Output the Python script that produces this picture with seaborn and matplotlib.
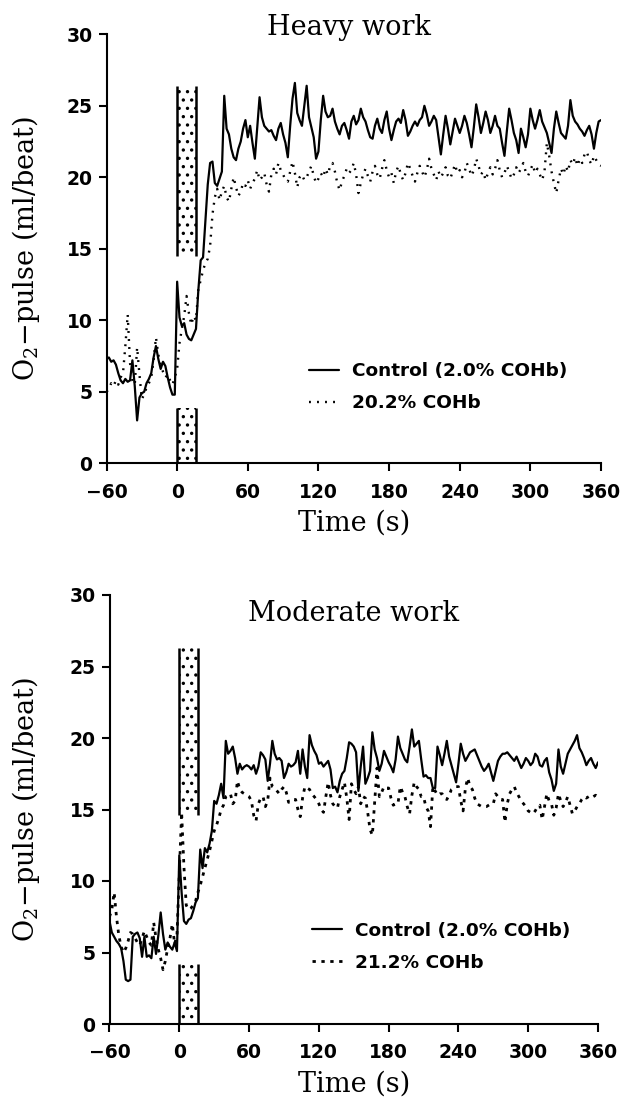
import numpy as np
import pandas as pd
import matplotlib
matplotlib.use("Agg")
import matplotlib.pyplot as plt
from matplotlib.lines import Line2D
import seaborn as sns

# ---------------- data ----------------
time_s = np.arange(-60, 361, 2)

heavy_control = [
    7.3, 7.4, 7.1, 7.2, 6.9, 6.3, 5.8, 5.6, 5.9, 5.7,
    5.8, 7.2, 5.4, 3.0, 4.6, 4.9, 5.0, 5.6, 5.9, 6.3,
    7.4, 8.2, 7.3, 6.6, 7.1, 6.8, 6.0, 5.3, 4.8, 4.8,
    12.7, 10.2, 9.6, 9.8, 9.0, 8.7, 8.6, 9.0, 9.4, 12.1,
    14.2, 14.4, 17.0, 19.5, 21.0, 21.1, 19.6, 19.4, 19.9, 20.4,
    25.7, 23.4, 23.0, 22.0, 21.4, 21.2, 22.0, 22.5, 23.4, 24.0,
    22.8, 23.6, 22.4, 21.3, 23.5, 25.6, 24.2, 23.6, 23.4, 23.2,
    23.3, 22.9, 22.6, 23.4, 23.8, 23.0, 22.4, 21.4, 23.6, 25.5,
    26.6, 24.5, 24.0, 23.6, 25.0, 26.4, 24.2, 23.5, 22.8, 21.3,
    21.8, 24.0, 25.7, 24.6, 24.2, 24.3, 24.8, 23.9, 23.4, 23.0,
    23.6, 23.8, 23.3, 22.7, 23.9, 24.3, 23.7, 24.0, 24.8, 24.2,
    23.9, 23.3, 22.8, 22.7, 23.6, 24.1, 23.4, 23.1, 24.0, 24.6,
    23.4, 22.6, 23.3, 23.9, 24.1, 23.8, 24.7, 24.0, 22.9, 23.2,
    23.6, 23.9, 23.6, 24.0, 24.2, 25.0, 24.4, 23.6, 23.9, 24.3,
    24.0, 22.8, 21.6, 23.0, 24.3, 23.4, 22.3, 23.2, 24.1, 23.6,
    23.1, 23.6, 24.3, 23.8, 23.0, 22.1, 23.5, 25.1, 24.2, 23.1,
    23.8, 24.6, 24.0, 23.1, 23.6, 24.3, 23.6, 23.4, 22.4, 21.5,
    23.2, 24.8, 24.0, 23.1, 22.6, 21.7, 23.4, 22.8, 22.1, 23.0,
    24.8, 24.0, 23.4, 24.0, 24.7, 23.9, 23.5, 23.1, 22.4, 21.7,
    23.4, 24.6, 23.8, 23.1, 22.9, 22.7, 23.6, 25.4, 24.3, 23.9,
    23.7, 23.4, 23.2, 22.9, 23.3, 23.6, 23.0, 22.0, 23.1, 23.9,
    24.0,
]

heavy_coh = [
    5.0, 5.2, 5.6, 5.4, 5.8, 5.5, 6.0, 6.3, 8.2, 10.4,
    7.0, 5.8, 5.5, 8.1, 6.2, 4.5, 4.8, 5.3, 5.6, 6.0,
    7.2, 8.8, 7.6, 6.9, 6.4, 6.0, 6.2, 5.8, 5.5, 6.0,
    6.6, 8.4, 9.4, 10.3, 11.7, 10.5, 9.7, 10.3, 10.0, 12.2,
    12.8, 13.5, 14.0, 14.3, 15.2, 17.4, 18.6, 19.2, 18.4, 19.0,
    19.4, 18.6, 18.3, 19.2, 20.0, 19.3, 18.7, 19.0, 19.6, 19.4,
    19.8, 19.2, 19.6, 19.9, 20.5, 19.8, 20.0, 20.3, 19.5, 19.0,
    20.2, 20.6, 20.2, 21.0, 20.5, 20.2, 19.8, 19.7, 20.4, 21.1,
    20.3, 19.3, 20.0, 20.2, 19.8, 20.0, 20.4, 20.8, 20.1, 19.6,
    19.9, 20.3, 20.0, 20.6, 20.2, 20.8, 21.0, 20.4, 19.6, 19.1,
    19.7, 20.1, 20.6, 20.3, 20.5, 21.0, 20.2, 18.9, 19.6, 20.2,
    20.6, 20.1, 19.7, 20.4, 20.8, 20.2, 19.9, 20.6, 21.2, 20.5,
    20.0, 20.3, 19.6, 20.4, 20.8, 20.2, 19.8, 20.3, 21.0, 20.6,
    20.1, 19.7, 20.3, 20.8, 20.4, 20.0, 20.5, 21.3, 20.6, 20.2,
    19.8, 20.4, 20.0, 20.3, 20.7, 20.1, 19.9, 20.4, 20.9, 20.3,
    20.5, 20.0, 20.3, 21.0, 20.6, 20.1, 20.5, 21.3, 20.8, 20.2,
    20.4, 19.8, 20.3, 20.7, 20.2, 20.6, 21.2, 20.5, 20.0, 20.3,
    20.8, 20.4, 19.9, 20.2, 20.7, 20.3, 20.6, 21.0, 20.4, 20.1,
    20.5, 20.9, 20.3, 20.6, 20.2, 19.8, 20.4, 22.4, 21.5, 20.4,
    19.6, 18.9, 19.8, 20.6, 20.2, 20.8, 20.4, 21.2, 20.9, 21.4,
    20.8, 21.3, 21.0, 21.6, 21.8, 21.2, 20.9, 21.5, 21.2, 20.9,
    20.8,
]

moderate_control = [
    7.2, 6.4, 6.1, 5.8, 5.6, 5.3, 4.4, 3.1, 3.0, 3.1,
    6.1, 6.3, 6.4, 6.0, 4.7, 6.1, 4.7, 4.8, 4.6, 6.1,
    4.9, 6.2, 7.8, 6.3, 5.2, 5.7, 5.4, 5.2, 5.7, 5.1,
    11.8, 9.2, 7.2, 7.0, 7.3, 7.4, 7.9, 8.5, 8.8, 12.2,
    10.9, 12.3, 12.0, 12.6, 13.5, 15.6, 15.4, 16.0, 16.8, 15.8,
    19.8, 18.9, 19.1, 19.4, 18.6, 17.5, 18.2, 17.8, 18.0, 18.1,
    18.0, 17.8, 18.1, 17.5, 18.0, 19.0, 18.8, 18.5, 17.0, 18.2,
    19.8, 18.9, 18.5, 18.6, 18.4, 17.2, 17.6, 18.2, 18.0, 18.1,
    18.3, 19.1, 17.5, 19.2, 18.0, 17.2, 20.2, 19.5, 19.1, 18.8,
    18.2, 18.3, 18.0, 18.2, 18.4, 17.8, 16.5, 16.6, 16.2, 17.0,
    17.5, 17.7, 18.6, 19.7, 19.6, 19.4, 19.0, 16.3, 18.0, 19.4,
    16.8, 17.2, 17.7, 20.4, 19.2, 18.6, 17.7, 18.2, 19.1, 18.7,
    18.3, 18.0, 17.6, 18.5, 20.1, 19.3, 18.9, 18.5, 18.3, 19.4,
    20.6, 19.4, 19.6, 19.8, 18.5, 17.3, 17.4, 17.2, 17.2, 16.5,
    16.5, 19.4, 18.8, 18.1, 18.9, 19.8, 18.7, 18.1, 17.5, 16.9,
    18.2, 19.6, 18.9, 18.4, 18.7, 19.0, 19.1, 19.2, 18.8, 18.4,
    18.0, 17.7, 17.9, 18.2, 17.6, 17.0, 17.7, 18.4, 18.7, 18.9,
    18.9, 19.0, 18.8, 18.6, 18.4, 18.7, 18.3, 17.9, 18.2, 18.6,
    18.4, 18.1, 18.3, 18.9, 18.7, 18.1, 18.0, 18.4, 18.6, 17.6,
    17.1, 16.3, 16.8, 19.2, 18.0, 17.5, 18.2, 18.9, 19.2, 19.5,
    19.8, 20.2, 19.3, 19.0, 18.6, 18.1, 18.4, 18.6, 18.2, 17.9,
    18.3,
]

moderate_coh = [
    7.5, 8.0, 9.2, 7.5, 6.2, 5.4, 5.0, 5.3, 5.8, 6.4,
    6.3, 6.0, 5.7, 5.5, 6.0, 6.5, 6.1, 5.7, 5.5, 7.1,
    6.0, 5.2, 4.6, 3.8, 4.4, 5.3, 6.0, 7.0, 5.6, 6.2,
    10.5, 14.8, 11.0, 8.3, 8.0, 8.1, 8.3, 8.6, 9.2, 9.7,
    10.3, 10.9, 11.5, 12.1, 12.8, 13.5, 13.9, 14.4, 15.0, 15.3,
    15.9, 16.0, 16.1, 15.4, 15.6, 17.0, 16.4, 16.2, 16.1, 16.0,
    15.9, 15.6, 14.6, 14.2, 15.4, 15.8, 15.9, 15.2, 15.6, 17.2,
    16.6, 16.5, 16.3, 16.1, 16.4, 16.6, 16.2, 15.5, 15.6, 15.7,
    15.7, 15.0, 14.5, 15.8, 16.6, 16.5, 16.4, 16.1, 15.9, 15.7,
    15.4, 15.0, 14.8, 15.9, 16.9, 16.0, 15.4, 15.2, 15.1, 15.9,
    16.4, 16.9, 15.8, 14.3, 16.8, 16.4, 16.1, 16.6, 15.4, 15.9,
    15.8, 14.8, 13.6, 13.2, 15.5, 17.9, 15.9, 16.2, 16.6, 16.5,
    16.5, 15.8, 15.3, 15.4, 15.4, 16.6, 16.2, 15.9, 15.2, 14.7,
    16.0, 16.9, 16.6, 16.4, 15.9, 15.9, 15.2, 14.9, 13.8, 16.6,
    16.3, 16.0, 16.1, 16.1, 15.8, 15.7, 16.0, 16.4, 16.5, 16.6,
    16.6, 15.6, 14.9, 16.5, 17.2, 16.6, 16.4, 15.8, 15.4, 15.3,
    15.2, 15.2, 15.2, 15.3, 15.4, 15.4, 16.1, 15.9, 15.7, 15.7,
    14.1, 15.4, 16.1, 16.4, 16.6, 16.2, 15.9, 15.6, 15.4, 15.2,
    14.9, 14.8, 14.7, 14.9, 15.2, 15.3, 14.3, 15.2, 16.1, 15.6,
    15.4, 14.6, 15.1, 16.1, 15.6, 15.2, 15.5, 15.9, 15.3, 14.7,
    14.9, 15.2, 15.4, 15.7, 15.9, 15.8, 15.9, 16.0, 15.9, 16.0,
    15.8,
]

panel_titles = ["Heavy work", "Moderate work"]
control_label = "Control (2.0% COHb)"
coh_labels = ["20.2% COHb", "21.2% COHb"]
x_ticks = [-60, 0, 60, 120, 180, 240, 300, 360]
y_ticks = [0, 5, 10, 15, 20, 25, 30]
x_label = "Time (s)"
y_label = "O$_2$\u2212pulse (ml/beat)"

# stimulus marker (stippled band), time range and value ranges
marker_t = [0, 16]
marker_upper = [[14.5, 26.4], [14.6, 26.3]]
marker_lower = [[0.0, 3.9], [0.0, 4.2]]

# ---------------- style ----------------
sns.set_theme(style="ticks")
plt.rcParams["font.family"] = ["DejaVu Serif"]
plt.rcParams["mathtext.fontset"] = "dejavuserif"
plt.rcParams["hatch.linewidth"] = 1.2
plt.rcParams["hatch.color"] = "black"
plt.rcParams["text.color"] = "black"
plt.rcParams["axes.labelcolor"] = "black"
plt.rcParams["xtick.color"] = "black"
plt.rcParams["ytick.color"] = "black"

fig = plt.figure(figsize=(6.21, 10.98), dpi=100)
W, H = 621.0, 1098.0
ax_top = fig.add_axes([106.5 / W, 1 - 463.3 / H, 494.5 / W, 429 / H])
ax_bot = fig.add_axes([109.5 / W, 1 - 1024 / H, 488.5 / W, 429 / H])

panels = [
    (ax_top, heavy_control, heavy_coh, (0, (0.8, 2.6)), 1.7),
    (ax_bot, moderate_control, moderate_coh, (0, (1.2, 2.0)), 2.0),
]

legend_anchor = [(0.41, 0.235), (0.415, 0.238)]
title_pos = [(0.49, 1.015), (0.50, 0.958)]
ylabel_x = [-0.13, -0.138]
serif_size = 19.5

for i, (ax, ctrl, coh, dot_style, dot_lw) in enumerate(panels):
    df = pd.DataFrame({"t": time_s, "control": ctrl, "coh": coh})
    sns.lineplot(data=df, x="t", y="coh", ax=ax, color="black",
                 linewidth=dot_lw, linestyle=dot_style, zorder=3)
    sns.lineplot(data=df, x="t", y="control", ax=ax, color="black",
                 linewidth=1.6, zorder=4)

    for lo, hi in (marker_upper[i], marker_lower[i]):
        ax.fill_between(marker_t, lo, hi, facecolor="none", edgecolor="black",
                        hatch="..", linewidth=0, zorder=2)
        ax.vlines(marker_t, lo, hi, color="black", linewidth=1.8, zorder=2)

    ax.set_xlim(-60, 360)
    ax.set_ylim(0, 30)
    ax.set_xticks(x_ticks)
    ax.set_yticks(y_ticks)
    ax.tick_params(direction="out", length=6, width=1.5, labelsize=13.5,
                   colors="black")
    ax.tick_params(axis="x", pad=8)
    ax.tick_params(axis="y", pad=4)
    for lab in ax.get_xticklabels() + ax.get_yticklabels():
        lab.set_fontweight("bold")
        lab.set_family("DejaVu Sans")
    for side in ("left", "bottom"):
        ax.spines[side].set_linewidth(1.5)
        ax.spines[side].set_color("black")
    sns.despine(ax=ax)

    ax.set_xlabel(x_label, fontsize=serif_size, labelpad=6)
    ax.set_ylabel(y_label, fontsize=serif_size)
    ax.yaxis.set_label_coords(ylabel_x[i], 0.5)
    ax.text(title_pos[i][0], title_pos[i][1], panel_titles[i],
            transform=ax.transAxes, ha="center", va="center",
            fontsize=serif_size)

    handles = [Line2D([], [], color="black", linewidth=1.6),
               Line2D([], [], color="black", linewidth=dot_lw, linestyle=dot_style)]
    ax.legend(handles, [control_label, coh_labels[i]], loc="upper left",
              bbox_to_anchor=legend_anchor[i], frameon=False,
              prop={"family": "DejaVu Sans", "weight": "bold", "size": 13.3},
              handlelength=1.6, handletextpad=0.7, labelspacing=0.75,
              borderpad=0, borderaxespad=0)

fig.savefig("out.png", dpi=100)
